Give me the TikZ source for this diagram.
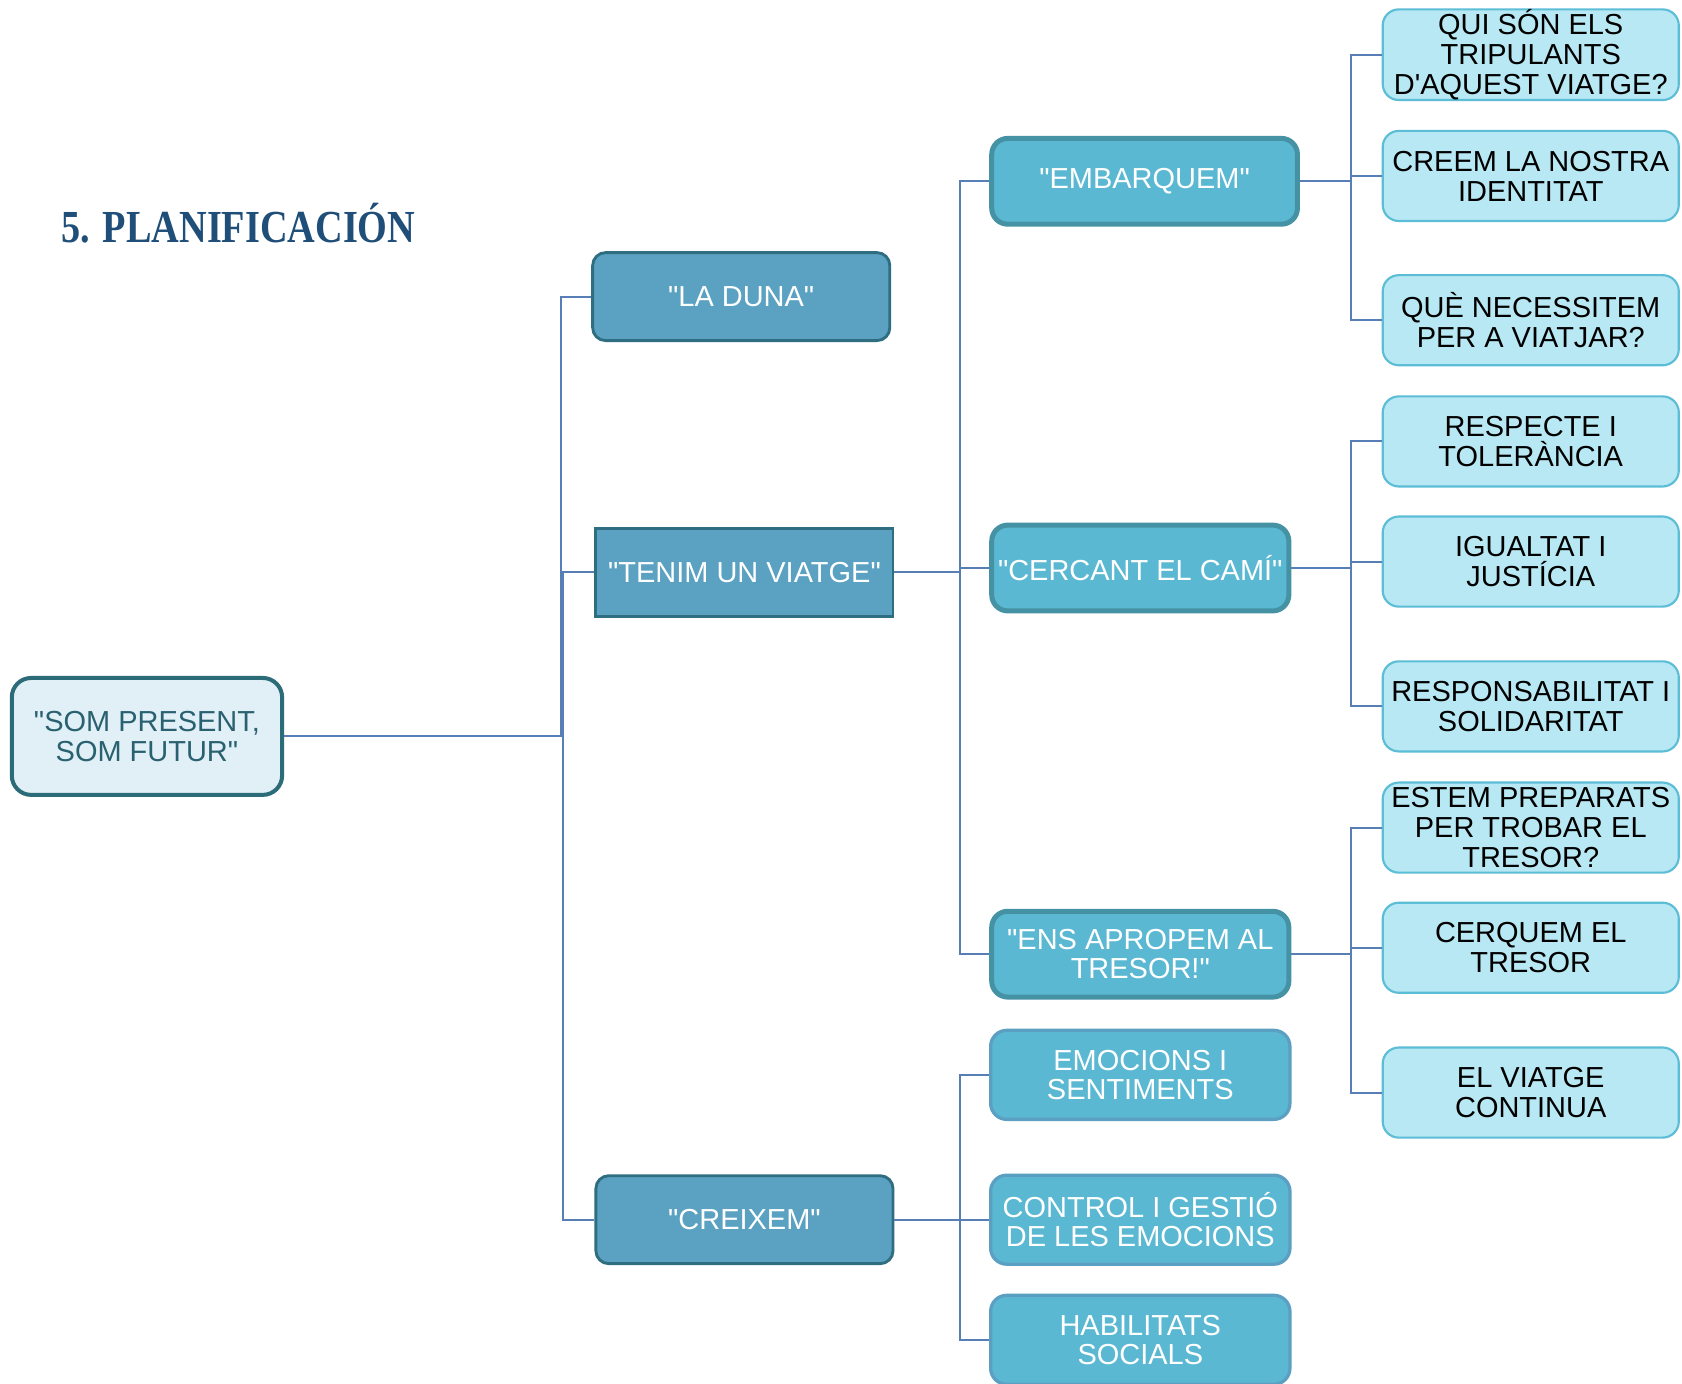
\documentclass[tikz,border=0pt]{standalone}
\usepackage{fontspec}
\setmainfont{Liberation Sans}
\newfontfamily\titlefont{Liberation Serif}
\usetikzlibrary{calc}
\newcommand{\dq}{\textquotedbl}
\definecolor{titlecol}{HTML}{1F4E79}
\definecolor{rootfill}{HTML}{E1EFF6}
\definecolor{rootline}{HTML}{2C6B78}
\definecolor{roottext}{HTML}{2A6170}
\definecolor{onefill}{HTML}{5BA1C2}
\definecolor{oneline}{HTML}{2E6E80}
\definecolor{twofill}{HTML}{5BB8D2}
\definecolor{twoline}{HTML}{4592A5}
\definecolor{twobline}{HTML}{5B9FC3}
\definecolor{leaffill}{HTML}{B8E8F3}
\definecolor{leafline}{HTML}{5BBDD6}
\definecolor{conncolor}{HTML}{587EB6}
\tikzset{
  base/.style={rectangle, align=center, inner sep=0pt, font=\fontsize{20.25pt}{20.5pt}\selectfont},
  rootbox/.style={base, rounded corners=13.5pt, fill=rootfill, draw=rootline, line width=2.8pt, text=roottext, minimum width=189pt, minimum height=81.75pt, font=\fontsize{20.25pt}{21pt}\selectfont},
  lvlone/.style={base, rounded corners=9pt, fill=onefill, draw=oneline, line width=2pt, text=white, minimum width=207.75pt, minimum height=61.5pt},
  lvltwo/.style={base, rounded corners=11.25pt, fill=twofill, draw=twoline, line width=3.5pt, text=white, minimum width=207.75pt, minimum height=60pt},
  lvltwob/.style={lvltwo, draw=twobline, line width=2.3pt, minimum width=209.25pt, minimum height=62.25pt},
  leaf/.style={base, rounded corners=11.25pt, fill=leaffill, draw=leafline, line width=1.5pt, text=black, minimum width=207pt, minimum height=63pt, font=\fontsize{20.25pt}{21pt}\selectfont},
  conn/.style={draw=conncolor, line width=1.4pt},
}
\begin{document}
\begin{tikzpicture}[x=0.75pt,y=-0.75pt]
\clip (0,0) rectangle (1568,1290);
\fill[white] (0,0) rectangle (1568,1290);

% title
\node[anchor=base west, inner sep=0pt, text=titlecol] (title) at (57,226)
  {\resizebox{247.5pt}{27.5pt}{\titlefont\bfseries 5. PLANIFICACIÓN}};

% root
\node[rootbox] (root) at (137,686.5) {\dq SOM PRESENT,\\SOM FUTUR\dq};

% level 1
\node[lvlone] (duna) at (691,276.5) {\dq LA DUNA\dq};
\node[lvlone, sharp corners] (tenim) at (694,533.5) {\dq TENIM UN VIATGE\dq};
\node[lvlone] (creixem) at (694,1137) {\dq CREIXEM\dq};

% level 2
\node[lvltwo, minimum width=213.75pt] (emb) at (1067,169) {\dq EMBARQUEM\dq};
\node[lvltwo] (cerc) at (1063,529.5) {\dq CERCANT EL CAMÍ\dq};
\node[lvltwo] (ens) at (1063,889.5) {\dq ENS APROPEM AL\\TRESOR!\dq};
\node[lvltwob] (emoc) at (1063,1002) {EMOCIONS I\\SENTIMENTS};
\node[lvltwob] (contr) at (1063,1137) {CONTROL I GESTIÓ\\DE LES EMOCIONS};
\node[lvltwob] (habil) at (1063,1249) {HABILITATS\\SOCIALS};

% level 3
\node[leaf] (qui) at (1427,51) {QUI SÓN ELS\\TRIPULANTS\\D\textquotesingle AQUEST VIATGE?};
\node[leaf] (creem) at (1427,164) {CREEM LA NOSTRA\\IDENTITAT};
\node[leaf] (que) at (1427,298.5) {QUÈ NECESSITEM\\PER A VIATJAR?};
\node[leaf] (resp) at (1427,411.5) {RESPECTE I\\TOLERÀNCIA};
\node[leaf] (igual) at (1427,523.5) {IGUALTAT I\\JUSTÍCIA};
\node[leaf] (respon) at (1427,658.5) {RESPONSABILITAT I\\SOLIDARITAT};
\node[leaf] (estem) at (1427,771.5) {ESTEM PREPARATS\\PER TROBAR EL\\TRESOR?};
\node[leaf] (cerq) at (1427,883.5) {CERQUEM EL\\TRESOR};
\node[leaf] (viatge) at (1427,1018.5) {EL VIATGE\\CONTINUA};

% junction x positions
\coordinate (jr) at (523,0);
\coordinate (jrb) at (525,0);
\coordinate (jtwo) at (895,0);
\coordinate (jthree) at (1259,0);

% connectors root -> level 1
\draw[conn] (root.east) -- (root.east -| jrb);
\draw[conn] (root.east -| jr) |- (duna.west);
\draw[conn] (root.east -| jrb) |- (tenim.west);
\draw[conn] (root.east -| jrb) |- (creixem.west);

% level 1 -> level 2
\draw[conn] (tenim.east) -- (tenim.east -| jtwo) |- (emb.west);
\draw[conn] (tenim.east) -- (tenim.east -| jtwo) |- (cerc.west);
\draw[conn] (tenim.east) -- (tenim.east -| jtwo) |- (ens.west);
\draw[conn] (creixem.east) -- (creixem.east -| jtwo) |- (emoc.west);
\draw[conn] (creixem.east) -- (creixem.east -| jtwo) |- (contr.west);
\draw[conn] (creixem.east) -- (creixem.east -| jtwo) |- (habil.west);

% level 2 -> level 3
\draw[conn] (emb.east) -- (emb.east -| jthree) |- (qui.west);
\draw[conn] (emb.east) -- (emb.east -| jthree) |- (creem.west);
\draw[conn] (emb.east) -- (emb.east -| jthree) |- (que.west);
\draw[conn] (cerc.east) -- (cerc.east -| jthree) |- (resp.west);
\draw[conn] (cerc.east) -- (cerc.east -| jthree) |- (igual.west);
\draw[conn] (cerc.east) -- (cerc.east -| jthree) |- (respon.west);
\draw[conn] (ens.east) -- (ens.east -| jthree) |- (estem.west);
\draw[conn] (ens.east) -- (ens.east -| jthree) |- (cerq.west);
\draw[conn] (ens.east) -- (ens.east -| jthree) |- (viatge.west);
\end{tikzpicture}
\end{document}
